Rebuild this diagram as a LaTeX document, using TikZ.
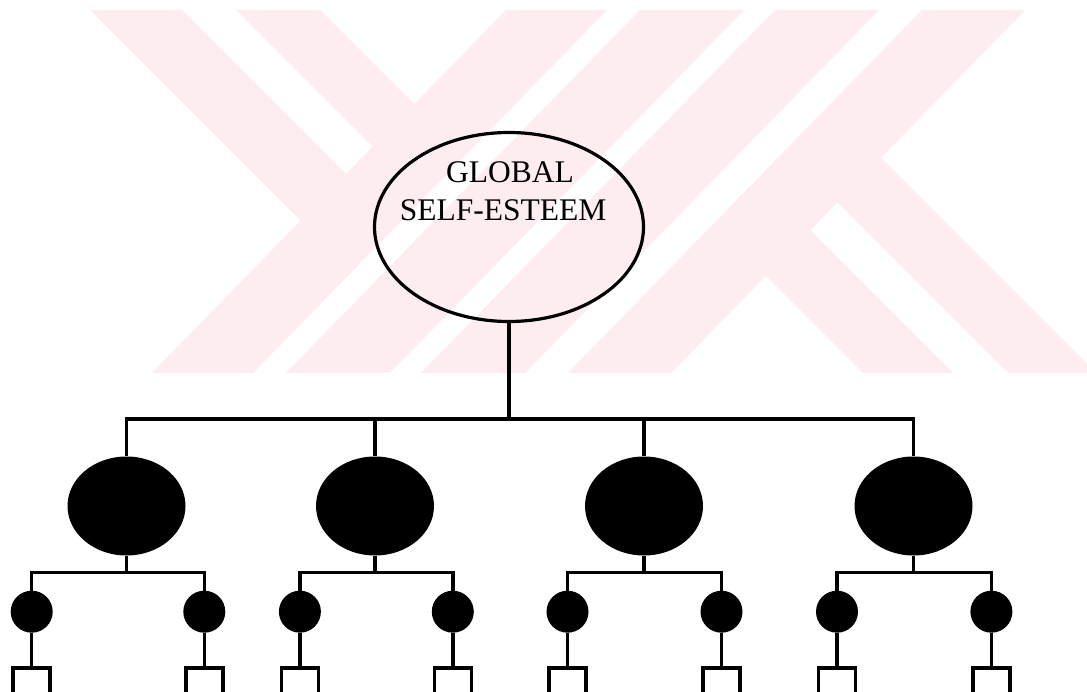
\documentclass[tikz,border=0pt]{standalone}
\usepackage{fontspec}
\setmainfont{Liberation Serif}
\usetikzlibrary{shapes.geometric,calc}
\definecolor{wmpink}{RGB}{253,236,240}
\begin{document}
\begin{tikzpicture}[x=1pt,y=-1pt,
  wmfill/.style={fill=wmpink,draw=none},
  link/.style={line width=3.5pt},
  rootnode/.style={ellipse,draw,line width=3.2pt,minimum width=269pt,minimum height=189pt,inner sep=0pt},
  facet/.style={ellipse,fill=black,minimum width=118pt,minimum height=99pt,inner sep=0pt},
  subfacet/.style={circle,fill=black,minimum size=42pt,inner sep=0pt},
  titletext/.style={anchor=base,inner sep=0pt,font=\fontsize{31.5pt}{38pt}\selectfont}]

\useasboundingbox[fill=white] (0,0) rectangle (1087,692);

% background emblem: pale diagonal bands
\begin{scope}
  \clip (0,10) rectangle (1087,373);
  \foreach \a/\b in {506/607,640/744,775/879,922/1025}
    \fill[wmfill] (\a,10) -- (\b,10) -- (\b-354,373) -- (\a-354,373) -- cycle;
  \fill[wmfill] (90,10) -- (182,10) -- (371.5,199.5) -- (326,246) -- cycle;
  \fill[wmfill] (236,10) -- (320,10) -- (439.6,129.6) -- (398,172) -- cycle;
  \fill[wmfill] (739.7,249.7) -- (784.2,204.2) -- (953,373) -- (863,373) -- cycle;
  \fill[wmfill] (811.3,176.3) -- (854.8,131.8) -- (1096,373) -- (1008,373) -- cycle;
\end{scope}

% root
\node[rootnode] (self) at (509,227) {};
\node[titletext] (gl1) at (510,183) {GLOBAL};
\node[titletext] (gl2) at (503,221) {SELF-ESTEEM};

% levels of the hierarchy
\coordinate (bar) at (509,419);
\coordinate (sub) at (0,572.3);
\coordinate (brk) at (0,668);
\coordinate (edge) at (0,695);

\foreach \n/\x/\la/\lb in {1/126.5/31.7/204.3,2/375/299.9/452.8,3/644/567.5/721.5,4/913.5/837/991.4} {
  \node[facet] (f\n) at (\x,506) {};
  \node[subfacet] (s\n-a) at (\la,611.7) {};
  \node[subfacet] (s\n-b) at (\lb,611.7) {};
}

\foreach \n in {1,...,4} {
  \draw[link] (self.south) -- (self.south |- bar) -| (f\n.north);
  \foreach \s in {a,b} {
    \draw[link] (f\n.south) -- (f\n.south |- sub) -| (s\n-\s.north);
    \draw[link] (s\n-\s.south) -- (s\n-\s.south |- brk);
    \draw[link] ($(s\n-\s.south |- edge)+(-18.5,0)$) |- ($(s\n-\s.south |- brk)+(18.5,0)$)
      -- ($(s\n-\s.south |- edge)+(18.5,0)$);
  }
}
\end{tikzpicture}
\end{document}
